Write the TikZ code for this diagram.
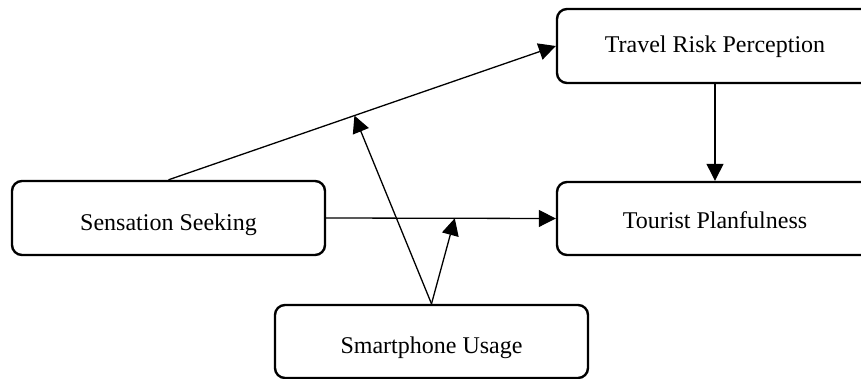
\documentclass[tikz,border=0pt]{standalone}
\usepackage{fontspec}
\setmainfont{Liberation Serif}
\usetikzlibrary{arrows.meta,calc}
\begin{document}
\begin{tikzpicture}[x=1pt,y=1pt,
  box/.style={draw, line width=2.4pt, rounded corners=10pt, fill=white, align=center, inner sep=0pt, text depth=0pt, font=\fontsize{24}{28}\selectfont},
  conn/.style={line width=1.3pt, -{Triangle[length=17pt,width=17pt]}}]
\clip (0,0) rectangle (861,-379);
\fill[white] (0,0) rectangle (861,-379);
\node[box, minimum width=313pt, minimum height=74pt, text height=24pt] (ss) at (168.5,-218) {Sensation Seeking};
\node[box, minimum width=316pt, minimum height=74pt, text height=14pt] (trp) at (715,-46) {Travel Risk Perception};
\node[box, minimum width=316pt, minimum height=73pt, text height=21pt] (tp) at (715,-218.5) {Tourist Planfulness};
\node[box, minimum width=313pt, minimum height=73pt, text height=23pt] (su) at (431.5,-341.5) {Smartphone Usage};
\coordinate (m1) at ($(ss.north)!0.48!(trp.west)$);
\coordinate (m2) at ($(ss.east)!0.56!(tp.west)$);
\draw[conn] (ss.north) -- (trp.west);
\draw[conn] (ss.east) -- (tp.west);
\draw[conn] (trp.south) -- (tp.north);
\draw[conn] (su.north) -- (m1);
\draw[conn] (su.north) -- (m2);
\end{tikzpicture}
\end{document}
